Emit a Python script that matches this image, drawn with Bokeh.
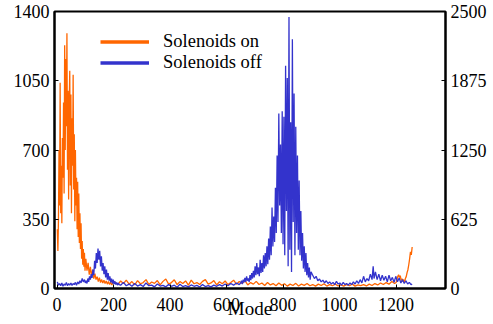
from bokeh.plotting import figure
from bokeh.models import Range1d, LinearAxis, FixedTicker, Legend, LegendItem
from bokeh.embed import file_html
from bokeh.resources import INLINE

# ---------------- data (mode index, counts) ----------------
x_ticks = [0, 200, 400, 600, 800, 1000, 1200]
left_ticks = [0, 350, 700, 1050, 1400]
right_ticks = [0, 625, 1250, 1875, 2500]

# Solenoids on (left axis)
on_start = [(1, 300), (3, 190), (5, 350), (7, 700), (9, 420), (11, 1040), (13, 380), (15, 620),
            (17, 330), (19, 760), (21, 560), (23, 940), (25, 480), (27, 1230), (29, 700), (31, 1160),
            (33, 820), (35, 1290), (37, 600), (39, 1000), (41, 450), (43, 920), (45, 1100), (47, 520),
            (49, 980), (51, 380), (53, 860), (55, 620), (57, 1080), (59, 500), (61, 780), (63, 340),
            (65, 700), (67, 420), (69, 560), (71, 300), (73, 540), (75, 260), (77, 480), (79, 230),
            (81, 380), (83, 200), (85, 330), (87, 150), (89, 240), (91, 120), (93, 200), (95, 110),
            (97, 180), (99, 90)]
on_decay = [(102, 150), (106, 90), (110, 130), (114, 70), (118, 110), (122, 60), (126, 95), (130, 50),
            (134, 75), (138, 45), (142, 60), (146, 35), (150, 55), (154, 30), (158, 45), (162, 28),
            (166, 42), (170, 25), (174, 38), (178, 22), (182, 35), (186, 20), (190, 32), (194, 18),
            (198, 30)]
on_base = [(205, 32), (215, 20), (225, 38), (235, 25), (245, 42), (255, 22), (265, 35), (275, 18),
           (285, 40), (295, 24), (305, 30), (315, 45), (325, 20), (335, 33), (345, 26), (355, 40),
           (365, 18), (375, 36), (385, 48), (395, 22), (405, 30), (415, 44), (425, 20), (435, 35),
           (445, 25), (455, 38), (465, 17), (475, 42), (485, 24), (495, 30), (505, 20), (515, 36),
           (525, 45), (535, 22), (545, 28), (555, 40), (565, 18), (575, 34), (585, 24), (595, 38),
           (605, 20), (615, 30), (625, 42), (635, 22), (645, 35), (655, 25), (665, 40), (675, 18),
           (685, 30), (695, 22), (705, 36), (715, 20), (725, 28), (735, 15), (745, 30), (755, 18),
           (765, 25), (775, 14), (785, 28), (795, 16), (805, 24), (815, 12), (825, 22), (835, 15),
           (845, 26), (855, 13), (865, 22), (875, 16), (885, 25), (895, 14), (905, 20), (915, 12),
           (925, 22), (935, 15), (945, 24), (955, 12), (965, 20), (975, 14), (985, 22), (995, 13),
           (1005, 18), (1015, 12), (1025, 20), (1035, 14), (1045, 22), (1055, 12), (1065, 18),
           (1075, 15), (1085, 20), (1095, 13), (1105, 22), (1115, 15), (1125, 25), (1135, 18),
           (1145, 28), (1155, 20), (1165, 30), (1175, 22), (1185, 35), (1195, 25)]
on_end = [(1200, 30), (1203, 45), (1206, 60), (1209, 70), (1212, 55), (1215, 65), (1218, 40),
          (1221, 50), (1224, 35), (1227, 45), (1230, 30), (1233, 50), (1236, 60), (1239, 80),
          (1242, 95), (1245, 120), (1248, 150), (1251, 185), (1254, 170), (1257, 210)]

# Solenoids off (right axis)
off_start = [(1, 60), (5, 30), (9, 45), (13, 25), (17, 50), (21, 20), (25, 40), (29, 30), (33, 55),
             (37, 25), (41, 45), (45, 30), (49, 50), (53, 28), (57, 45), (61, 35), (65, 55), (69, 30),
             (73, 60), (77, 40), (81, 70), (85, 50), (89, 90), (93, 60), (97, 80)]
off_bump = [(100, 50), (103, 70), (106, 45), (109, 90), (112, 60), (115, 110), (118, 80), (121, 130),
            (124, 95), (127, 170), (130, 120), (133, 250), (136, 180), (139, 320), (142, 230),
            (145, 360), (148, 260), (151, 340), (154, 200), (157, 290), (160, 160), (163, 230),
            (166, 130), (169, 200), (172, 100), (175, 170), (178, 80), (181, 140), (184, 70),
            (187, 110), (190, 55), (193, 90), (196, 45), (199, 80), (202, 40), (205, 65), (208, 35),
            (211, 55), (214, 30), (217, 50), (220, 35)]
off_base = [(225, 30), (235, 55), (245, 25), (255, 40), (265, 20), (275, 45), (285, 22), (295, 35),
            (305, 18), (315, 50), (325, 25), (335, 30), (345, 15), (355, 40), (365, 22), (375, 28),
            (385, 15), (395, 35), (405, 20), (415, 30), (425, 12), (435, 38), (445, 18), (455, 25),
            (465, 15), (475, 32), (485, 20), (495, 28), (505, 14), (515, 35), (525, 18), (535, 25),
            (545, 15), (555, 30), (565, 20), (575, 35), (585, 22), (595, 40), (605, 25), (615, 45),
            (625, 30), (635, 50), (645, 35)]
off_peak = [(650, 50), (653, 70), (656, 40), (659, 80), (662, 55), (665, 95), (668, 60), (671, 110),
            (674, 70), (677, 90), (680, 60), (683, 120), (686, 75), (689, 140), (692, 90), (695, 160),
            (698, 100), (701, 200), (704, 120), (707, 230), (710, 130), (713, 190), (716, 110),
            (719, 260), (722, 140), (725, 230), (728, 150), (731, 300), (734, 180), (737, 320),
            (740, 200), (743, 380), (746, 220), (749, 450), (752, 260), (755, 560), (758, 300),
            (761, 730), (764, 380), (767, 650), (770, 420), (773, 910), (776, 500), (779, 1200),
            (782, 600), (785, 1580), (788, 750), (791, 1300), (794, 500), (797, 1600), (800, 400),
            (803, 1550), (806, 300), (809, 2010), (812, 700), (815, 1900), (818, 200), (821, 2450),
            (824, 350), (827, 1500), (830, 150), (833, 2250), (836, 600), (839, 1760), (842, 300),
            (845, 1460), (848, 500), (851, 1200), (854, 350), (857, 975), (860, 300), (863, 700),
            (866, 250), (869, 500), (872, 180), (875, 380), (878, 150), (881, 320), (884, 120),
            (887, 230), (890, 100), (893, 190), (896, 80), (899, 150)]
off_tail = [(905, 120), (911, 90), (917, 110), (923, 70), (929, 85), (935, 60), (941, 75), (947, 50),
            (953, 70), (959, 45), (965, 60), (971, 40), (977, 55), (983, 35), (989, 65), (995, 40),
            (1001, 50), (1007, 30), (1013, 55), (1019, 35), (1025, 45), (1031, 30), (1037, 50),
            (1043, 35), (1049, 60), (1055, 40), (1061, 70), (1067, 45), (1073, 80), (1079, 50),
            (1085, 110), (1091, 60), (1097, 90), (1103, 70), (1109, 130), (1115, 80), (1119, 200),
            (1122, 90), (1127, 150), (1133, 80), (1139, 130), (1145, 70), (1151, 120), (1157, 75),
            (1163, 110), (1169, 60), (1175, 120), (1181, 70), (1187, 100), (1193, 55), (1199, 110),
            (1205, 60), (1211, 95), (1217, 50), (1223, 80), (1229, 45), (1235, 70), (1241, 40),
            (1247, 55), (1253, 35), (1257, 40)]

x_title = "Mode"
series_names = ["Solenoids on", "Solenoids off"]


def unzip(*segments):
    xs, ys = [], []
    for seg in segments:
        for a, b in seg:
            xs.append(a)
            ys.append(b)
    return xs, ys


on_x, on_y = unzip(on_start, on_decay, on_base, on_end)
off_x, off_y = unzip(off_start, off_bump, off_base, off_peak, off_tail)

ORANGE = "#ff6600"
BLUE = "#3333cc"
FONT = "Times New Roman"
NAN = float("nan")

p = figure(width=490, height=324, output_backend="svg", toolbar_location=None,
           x_range=Range1d(-9, 1375), y_range=Range1d(0, 1400),
           min_border_left=54, min_border_right=45, min_border_top=11, min_border_bottom=36)
p.extra_y_ranges = {"right": Range1d(0, 2500)}
p.background_fill_color = "white"
p.border_fill_color = "white"
p.outline_line_color = "black"
p.outline_line_width = 2
p.xgrid.visible = False
p.ygrid.visible = False

r_on = p.line(on_x, on_y, line_color=ORANGE, line_width=1.3)
r_off = p.line(off_x, off_y, line_color=BLUE, line_width=1.3, y_range_name="right")

# thick legend swatches (no visible data)
leg_on = p.line([NAN, NAN], [NAN, NAN], line_color=ORANGE, line_width=3.5)
leg_off = p.line([NAN, NAN], [NAN, NAN], line_color=BLUE, line_width=3.5)

right_axis = LinearAxis(y_range_name="right")
p.add_layout(right_axis, "right")

p.xaxis.ticker = FixedTicker(ticks=x_ticks)
p.yaxis[0].ticker = FixedTicker(ticks=left_ticks)
right_axis.ticker = FixedTicker(ticks=right_ticks)

for ax in [p.xaxis[0], p.yaxis[0], right_axis]:
    ax.axis_line_color = "black"
    ax.axis_line_width = 2
    ax.major_tick_in = 4
    ax.major_tick_out = 0
    ax.major_tick_line_color = "black"
    ax.major_tick_line_width = 1
    ax.minor_tick_line_color = None
    ax.major_label_text_font = FONT
    ax.major_label_text_font_size = "18px"
    ax.major_label_text_font_style = "normal"
    ax.major_label_text_color = "black"
    ax.major_label_standoff = 5

p.xaxis.major_label_standoff = 9
p.xaxis.axis_label = x_title
p.xaxis.axis_label_text_font = FONT
p.xaxis.axis_label_text_font_size = "19px"
p.xaxis.axis_label_text_font_style = "normal"
p.xaxis.axis_label_text_color = "black"
p.xaxis.axis_label_standoff = -16

legend = Legend(items=[LegendItem(label=series_names[0], renderers=[leg_on]),
                       LegendItem(label=series_names[1], renderers=[leg_off])],
                location=(46, 215))
legend.background_fill_alpha = 0
legend.border_line_color = None
legend.padding = 0
legend.margin = 0
legend.spacing = 0
legend.glyph_width = 49
legend.glyph_height = 21
legend.label_height = 21
legend.label_standoff = 14
legend.label_text_font = FONT
legend.label_text_font_size = "18.5px"
legend.label_text_font_style = "normal"
legend.label_text_color = "black"
p.add_layout(legend, "center")

open("out.html", "w").write(file_html(p, INLINE))
